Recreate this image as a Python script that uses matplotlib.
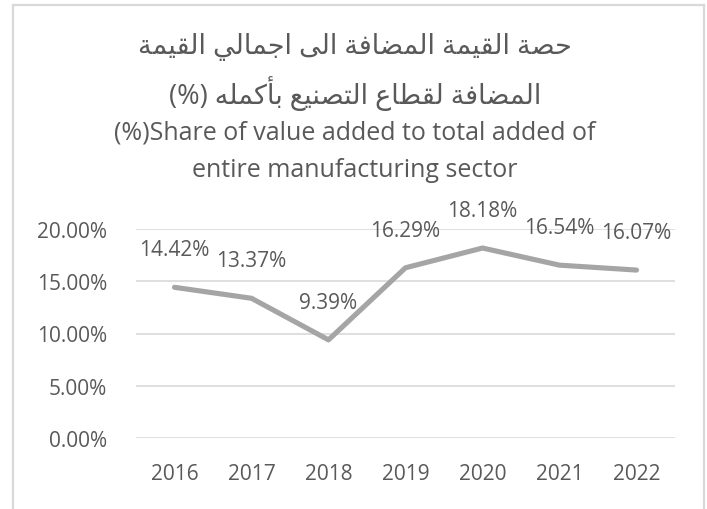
import matplotlib
matplotlib.use("Agg")
import matplotlib.pyplot as plt
from matplotlib.lines import Line2D

years = ["2016", "2017", "2018", "2019", "2020", "2021", "2022"]
share = [14.42, 13.37, 9.39, 16.29, 18.18, 16.54, 16.07]
y_ticks = [0, 5, 10, 15, 20]

title_ar = ["حصة القيمة المضافة الى اجمالي القيمة",
            "المضافة لقطاع التصنيع بأكمله (%)"]
title_en = ["(%)Share of value added to total added of",
            "entire manufacturing sector"]

TEXT = "#595959"
FONT = ["Open Sans", "DejaVu Sans"]

# contextual forms (isolated, final, initial, medial)
FORMS = {
    "ا": ("\uFE8D", "\uFE8E", None, None),
    "أ": ("\uFE83", "\uFE84", None, None),
    "ب": ("\uFE8F", "\uFE90", "\uFE91", "\uFE92"),
    "ة": ("\uFE93", "\uFE94", None, None),
    "ت": ("\uFE95", "\uFE96", "\uFE97", "\uFE98"),
    "ج": ("\uFE9D", "\uFE9E", "\uFE9F", "\uFEA0"),
    "ح": ("\uFEA1", "\uFEA2", "\uFEA3", "\uFEA4"),
    "ص": ("\uFEB9", "\uFEBA", "\uFEBB", "\uFEBC"),
    "ض": ("\uFEBD", "\uFEBE", "\uFEBF", "\uFEC0"),
    "ط": ("\uFEC1", "\uFEC2", "\uFEC3", "\uFEC4"),
    "ع": ("\uFEC9", "\uFECA", "\uFECB", "\uFECC"),
    "ف": ("\uFED1", "\uFED2", "\uFED3", "\uFED4"),
    "ق": ("\uFED5", "\uFED6", "\uFED7", "\uFED8"),
    "ك": ("\uFED9", "\uFEDA", "\uFEDB", "\uFEDC"),
    "ل": ("\uFEDD", "\uFEDE", "\uFEDF", "\uFEE0"),
    "م": ("\uFEE1", "\uFEE2", "\uFEE3", "\uFEE4"),
    "ن": ("\uFEE5", "\uFEE6", "\uFEE7", "\uFEE8"),
    "ه": ("\uFEE9", "\uFEEA", "\uFEEB", "\uFEEC"),
    "ى": ("\uFEEF", "\uFEF0", "\uFBE8", "\uFBE9"),
    "ي": ("\uFEF1", "\uFEF2", "\uFEF3", "\uFEF4"),
}


def shape_word(word):
    out = []
    for i, ch in enumerate(word):
        if ch not in FORMS:
            out.append(ch)
            continue
        prev = word[i - 1] if i > 0 else None
        nxt = word[i + 1] if i + 1 < len(word) else None
        joins_prev = prev in FORMS and FORMS[prev][2] is not None
        joins_next = nxt in FORMS and FORMS[ch][2] is not None
        iso, fin, ini, med = FORMS[ch]
        if joins_prev and joins_next:
            out.append(med)
        elif joins_prev:
            out.append(fin)
        elif joins_next:
            out.append(ini)
        else:
            out.append(iso)
    return "".join(out)


def rtl(line):
    # shape each word, then lay out right-to-left
    words = []
    for w in line.split(" "):
        if any(c in FORMS for c in w):
            words.append(shape_word(w)[::-1])
        else:
            words.append(w)
    return " ".join(words[::-1])


W, H = 707, 510
fig = plt.figure(figsize=(W / 100, H / 100), dpi=100)
fig.patch.set_facecolor("white")

# chart frame (no bottom edge visible)
fx0, fx1, fy = 13 / W, 704 / W, 1 - 6 / H
for xs, ys in [([fx0, fx0], [0, fy]), ([fx0, fx1], [fy, fy]), ([fx1, fx1], [fy, 0])]:
    fig.add_artist(Line2D(xs, ys, transform=fig.transFigure, color="#D9D9D9", lw=1.6))

ax = fig.add_axes([136 / W, 1 - 439 / H, (675 - 136) / W, (439 - 230) / H])

x = list(range(len(years)))
ax.plot(x, share, color="#A5A5A5", lw=3.7, solid_capstyle="round",
        solid_joinstyle="round", zorder=3)

for xi, v in zip(x, share):
    ax.annotate(f"{v:.2f}%", (xi, v), xytext=(0, 27), textcoords="offset points",
                ha="center", va="center", fontsize=15, color=TEXT, family=FONT, zorder=4)

ax.set_xlim(-0.5, len(years) - 0.5)
ax.set_ylim(0, 20)
ax.set_yticks(y_ticks)
ax.set_yticklabels([f"{t:.2f}%" for t in y_ticks])
ax.set_xticks(x)
ax.set_xticklabels(years)
ax.grid(axis="y", color="#D9D9D9", lw=1.2)
ax.set_axisbelow(True)
for s in ax.spines.values():
    s.set_visible(False)
ax.tick_params(axis="both", length=0, labelsize=15, labelcolor=TEXT)
ax.tick_params(axis="y", pad=21)
ax.tick_params(axis="x", pad=18)
for lab in ax.get_xticklabels() + ax.get_yticklabels():
    lab.set_family(FONT)

# title block
title_lines = [rtl(t) for t in title_ar] + title_en
title_y = [47, 94, 133, 171]
title_size = [19.5, 19.5, 18, 18]
for t, yy, fs in zip(title_lines, title_y, title_size):
    fig.text(355 / W, 1 - yy / H, t, ha="center", va="center",
             fontsize=fs, color=TEXT, family=FONT)

fig.savefig("out.png", dpi=100)
